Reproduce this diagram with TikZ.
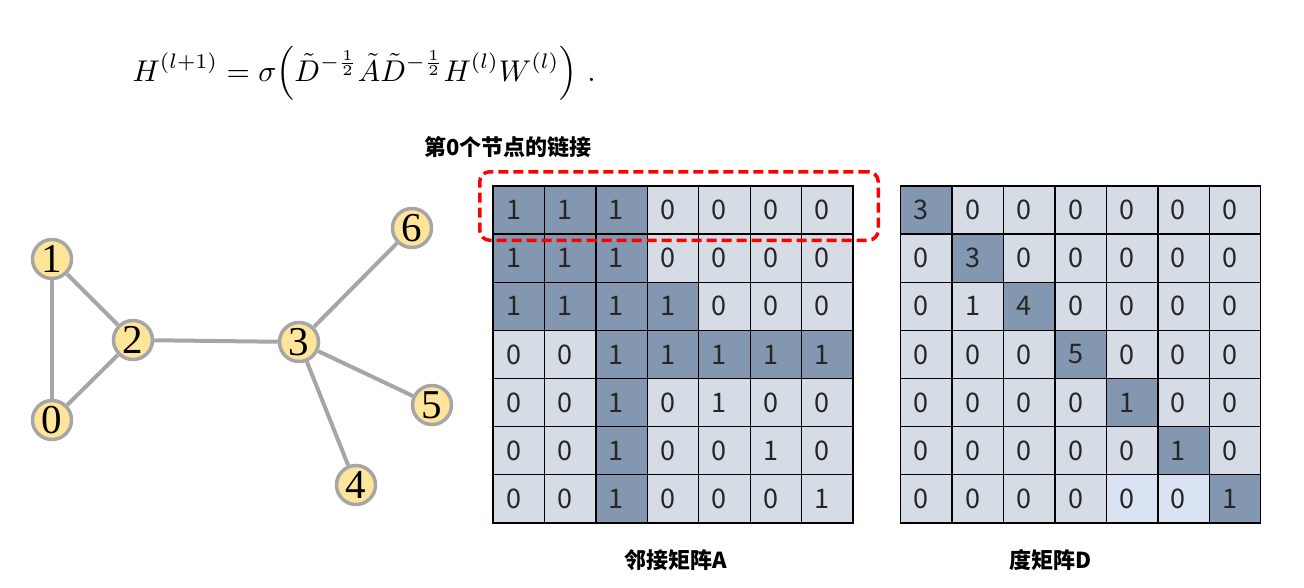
\documentclass[tikz,border=0pt]{standalone}
\usepackage{amsmath}
\usepackage{fontspec}
\newfontfamily\gfont{Liberation Serif}
\newfontfamily\cjk{Noto Sans CJK SC}
\usepackage{tikz}
\usetikzlibrary{positioning}

\definecolor{dk}{HTML}{8497B0}
\definecolor{lt}{HTML}{D6DCE5}
\definecolor{pl}{HTML}{DAE3F3}
\definecolor{vfill}{HTML}{FFE599}
\definecolor{ringgray}{HTML}{A6A6A6}

\tikzset{
  vert/.style={circle, draw=ringgray, line width=3.5pt, fill=vfill,
    minimum size=39pt, inner sep=0pt, font=\gfont\fontsize{41}{41}\selectfont},
  link/.style={draw=ringgray, line width=4pt},
  cell/.style={rectangle, draw=black, line width=1.3pt,
    minimum width=51.43pt, minimum height=48.14pt,
    inner xsep=13pt, inner ysep=0pt, text width=25.43pt, align=left,
    font=\cjk\fontsize{27}{27}\selectfont, text=black!85},
  hlbox/.style={rectangle, draw=red, line width=3.5pt, rounded corners=10pt,
    dash pattern=on 10pt off 5pt, minimum width=398.5pt, minimum height=68.5pt},
  titletext/.style={font=\cjk\bfseries\fontsize{22}{22}\selectfont}
}

\begin{document}
\begin{tikzpicture}[x=1pt,y=-1pt]
  \useasboundingbox (0,0) rectangle (1304,587);

  % formula
  \node[anchor=base west, inner sep=0pt, scale=3.0] (gcn) at (132,81)
    {$\displaystyle H^{(l+1)} = \sigma\Big(\tilde{D}^{-\frac{1}{2}}\tilde{A}\tilde{D}^{-\frac{1}{2}}H^{(l)}W^{(l)}\Big)\ .$};

  % graph
  \node[vert] (v0) at (52,420) {0};
  \node[vert] (v1) at (52,259) {1};
  \node[vert] (v2) at (133,340) {2};
  \node[vert] (v3) at (299,342) {3};
  \node[vert] (v4) at (356,485) {4};
  \node[vert] (v5) at (432,405) {5};
  \node[vert] (v6) at (412,228) {6};
  \draw[link] (v1) edge (v0)
              (v1) edge (v2)
              (v0) edge (v2)
              (v2) edge (v3)
              (v3) edge (v6)
              (v3) edge (v5)
              (v3) edge (v4)
  ;

  % adjacency matrix A
  \foreach \row [count=\r from 0] in {
      {1/dk,1/dk,1/dk,0/lt,0/lt,0/lt,0/lt},
      {1/dk,1/dk,1/dk,0/lt,0/lt,0/lt,0/lt},
      {1/dk,1/dk,1/dk,1/dk,0/lt,0/lt,0/lt},
      {0/lt,0/lt,1/dk,1/dk,1/dk,1/dk,1/dk},
      {0/lt,0/lt,1/dk,0/lt,1/lt,0/lt,0/lt},
      {0/lt,0/lt,1/dk,0/lt,0/lt,1/lt,0/lt},
      {0/lt,0/lt,1/dk,0/lt,0/lt,0/lt,1/lt}}
    \foreach \v/\s [count=\c from 0] in \row
      \node[cell, fill=\s] (A-\r-\c) at ({493+51.43*(\c+0.5)},{186+48.14*(\r+0.5)}) {\v};

  % degree matrix D
  \foreach \row [count=\r from 0] in {
      {3/dk,0/lt,0/lt,0/lt,0/lt,0/lt,0/lt},
      {0/lt,3/dk,0/lt,0/lt,0/lt,0/lt,0/lt},
      {0/lt,1/lt,4/dk,0/lt,0/lt,0/lt,0/lt},
      {0/lt,0/lt,0/lt,5/dk,0/lt,0/lt,0/lt},
      {0/lt,0/lt,0/lt,0/lt,1/dk,0/lt,0/lt},
      {0/lt,0/lt,0/lt,0/lt,0/lt,1/dk,0/lt},
      {0/lt,0/lt,0/lt,0/lt,0/pl,0/pl,1/dk}}
    \foreach \v/\s [count=\c from 0] in \row
      \node[cell, fill=\s] (D-\r-\c) at ({900.7+51.43*(\c+0.5)},{186+48.14*(\r+0.5)}) {\v};

  % highlight of row 0
  \node[hlbox] (row0) at (679,206) {};
  \node[titletext, anchor=west] (row0txt) at (421,147) {第0个节点的链接};

  \node[titletext] (Atxt) at (676,560) {邻接矩阵A};
  \node[titletext] (Dtxt) at (1051,560) {度矩阵D};
\end{tikzpicture}
\end{document}
